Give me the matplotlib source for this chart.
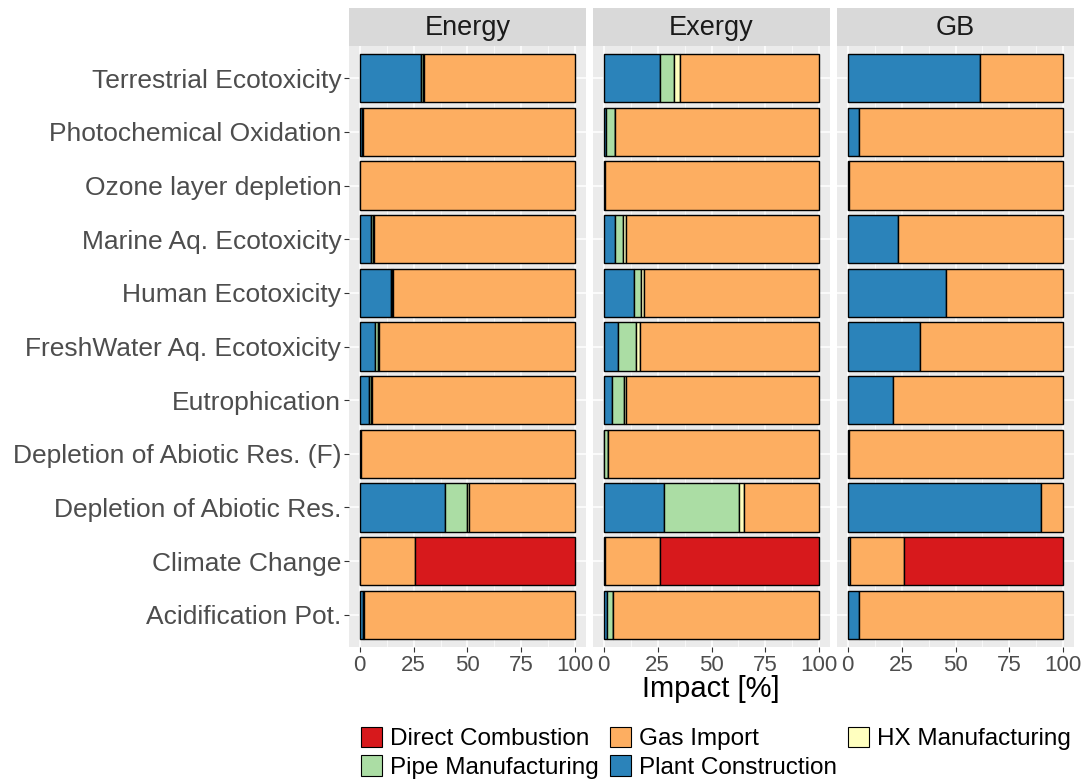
import numpy as np
import matplotlib
matplotlib.use("Agg")
import matplotlib.pyplot as plt
from matplotlib.patches import Patch
from matplotlib.ticker import MultipleLocator

plt.rcParams['font.family'] = ['Liberation Sans', 'DejaVu Sans']

# categories, top to bottom as shown
categories = ["Terrestrial Ecotoxicity", "Photochemical Oxidation", "Ozone layer depletion",
              "Marine Aq. Ecotoxicity", "Human Ecotoxicity", "FreshWater Aq. Ecotoxicity",
              "Eutrophication", "Depletion of Abiotic Res. (F)", "Depletion of Abiotic Res.",
              "Climate Change", "Acidification Pot."]
methods = ["Energy", "Exergy", "GB"]

# Energy
energy_plant = [28.3, 1.2, 0.3, 5.3, 14.3, 7.1, 4.3, 0.5, 39.5, 0.3, 1.5]
energy_pipe = [1.0, 0.3, 0.0, 0.8, 0.6, 1.5, 1.0, 0.0, 10.2, 0.0, 0.3]
energy_hx = [0.6, 0.1, 0.0, 0.4, 0.3, 0.5, 0.2, 0.0, 0.8, 0.0, 0.1]
energy_gas = [70.1, 98.4, 99.7, 93.5, 84.8, 90.9, 94.5, 99.5, 49.5, 25.5, 98.1]
energy_direct = [0, 0, 0, 0, 0, 0, 0, 0, 0, 74.2, 0]

# Exergy
exergy_plant = [25.9, 1.2, 0.5, 5.0, 13.8, 6.4, 4.0, 0.3, 27.8, 0.5, 1.5]
exergy_pipe = [6.5, 3.9, 0.1, 4.0, 3.3, 8.4, 5.3, 1.5, 35.0, 0.3, 2.8]
exergy_hx = [3.1, 0.3, 0.0, 1.5, 1.4, 1.9, 1.0, 0.2, 2.3, 0.0, 0.2]
exergy_gas = [64.5, 94.6, 99.4, 89.5, 81.5, 83.3, 89.7, 98.0, 34.9, 25.4, 95.5]
exergy_direct = [0, 0, 0, 0, 0, 0, 0, 0, 0, 73.8, 0]

# GB
gb_plant = [61.3, 5.1, 0.5, 23.3, 45.6, 33.7, 21.0, 0.8, 89.9, 1.0, 5.3]
gb_pipe = [0] * 11
gb_hx = [0] * 11
gb_gas = [38.7, 94.9, 99.5, 76.7, 54.4, 66.3, 79.0, 99.2, 10.1, 25.1, 94.7]
gb_direct = [0, 0, 0, 0, 0, 0, 0, 0, 0, 73.9, 0]

components = ["Plant Construction", "Pipe Manufacturing", "HX Manufacturing", "Gas Import", "Direct Combustion"]
colors = {"Direct Combustion": "#D7191C", "Gas Import": "#FDAE61", "HX Manufacturing": "#FFFFBF",
          "Pipe Manufacturing": "#ABDDA4", "Plant Construction": "#2B83BA"}

data = {
    "Energy": [energy_plant, energy_pipe, energy_hx, energy_gas, energy_direct],
    "Exergy": [exergy_plant, exergy_pipe, exergy_hx, exergy_gas, exergy_direct],
    "GB": [gb_plant, gb_pipe, gb_hx, gb_gas, gb_direct],
}

W, H = 1085, 783
fig = plt.figure(figsize=(W / 100, H / 100), dpi=100)

panel_left = [349, 593, 837]
panel_w = 237
top, bottom, strip_top = 46, 647, 8
n = len(categories)
ypos = np.arange(n)[::-1] + 1

for i, m in enumerate(methods):
    ax = fig.add_axes([panel_left[i] / W, 1 - bottom / H, panel_w / W, (bottom - top) / H])
    ax.set_facecolor("#EBEBEB")
    left = np.zeros(n)
    for comp, vals in zip(components, data[m]):
        vals = np.array(vals, dtype=float)
        mask = vals > 0
        ax.barh(ypos[mask], vals[mask], left=left[mask], height=0.9,
                color=colors[comp], edgecolor="black", linewidth=1.0, zorder=3)
        left += vals
    ax.set_xlim(-5, 105)
    ax.set_ylim(0.4, n + 0.6)
    ax.xaxis.set_major_locator(MultipleLocator(25))
    ax.xaxis.set_minor_locator(MultipleLocator(12.5))
    ax.grid(which="major", color="white", linewidth=1.1, zorder=0)
    ax.grid(which="minor", axis="x", color="white", linewidth=0.5, zorder=0)
    ax.set_axisbelow(True)
    for s in ax.spines.values():
        s.set_visible(False)
    ax.set_xticks([0, 25, 50, 75, 100])
    ax.set_xticklabels(["0", "25", "50", "75", "100"])
    ax.tick_params(axis="x", which="major", length=3.5, color="#333333", labelsize=16,
                   labelcolor="#4D4D4D", pad=2)
    ax.tick_params(axis="x", which="minor", length=0)
    ax.set_yticks(ypos)
    if i == 0:
        ax.set_yticklabels(categories)
        ax.tick_params(axis="y", length=3.5, color="#333333", labelsize=19,
                       labelcolor="#4D4D4D", pad=2)
    else:
        ax.set_yticklabels([])
        ax.tick_params(axis="y", length=0)

    sax = fig.add_axes([panel_left[i] / W, 1 - top / H, panel_w / W, (top - strip_top) / H])
    sax.set_facecolor("#D9D9D9")
    sax.set_xticks([])
    sax.set_yticks([])
    for s in sax.spines.values():
        s.set_visible(False)
    sax.text(0.5, 0.47, m, ha="center", va="center", fontsize=19.5, color="#1A1A1A",
             transform=sax.transAxes)

fig.text(711 / W, 1 - 689 / H, "Impact [%]", ha="center", va="center", fontsize=21)

legend_order = ["Direct Combustion", "Pipe Manufacturing", "Gas Import", "Plant Construction", "HX Manufacturing"]
handles = [Patch(facecolor=colors[c], edgecolor="black", linewidth=0.8, label=c) for c in legend_order]
fig.legend(handles=handles, loc="upper left", bbox_to_anchor=(361 / W, 1 - 727 / H), ncol=3,
           frameon=False, fontsize=17.5, handlelength=0.85, handleheight=0.9, handletextpad=0.35,
           columnspacing=0.45, labelspacing=0.2, borderpad=0.0, borderaxespad=0.0)

fig.savefig("out.png", dpi=100)
